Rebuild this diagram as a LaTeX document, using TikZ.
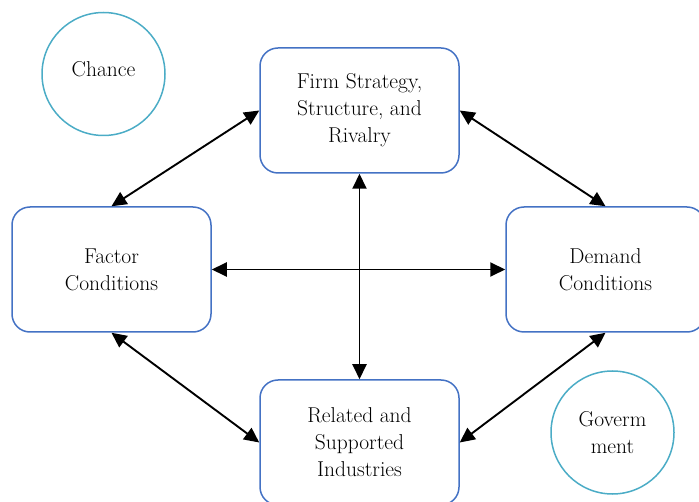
\documentclass[tikz,border=0pt]{standalone}
\usetikzlibrary{arrows.meta}
\definecolor{boxblue}{HTML}{4472C4}
\definecolor{circteal}{HTML}{4BACC6}
\begin{document}
\begin{tikzpicture}[x=1pt,y=-1pt,
  box/.style={draw=boxblue,line width=1.5pt,rounded corners=18pt,minimum width=199pt,minimum height=125pt,align=center,inner sep=0pt},
  circ/.style={draw=circteal,line width=1.5pt,circle,minimum size=123pt,inner sep=0pt,align=center},
  txt/.style={align=center,inner sep=0pt},
  link/.style={line width=1.9pt,{Triangle[length=15pt,width=14pt]}-{Triangle[length=15pt,width=14pt]}},
  every node/.style={font=\rmfamily\fontsize{21.5}{27}\selectfont}]
\useasboundingbox (0,0) rectangle (699,502);
\begin{scope}
\clip (0,0) rectangle (699,502);
\node[box] (firm) at (359.5,110.5) {Firm Strategy,\\Structure, and\\Rivalry};
\node[box] (factor) at (111.5,269.5) {Factor\\Conditions};
\node[box] (demand) at (605.5,269.5) {Demand\\Conditions};
\node[box] (related) at (359.5,442.5) {Related and\\Supported\\Industries};
\node[circ] (chance) at (103.5,74) {};
\node[txt] (chancetext) at (103.5,69) {Chance};
\node[circ] (gov) at (612.5,432.5) {Goverm\\ment};
\draw[link] (factor.north) -- (firm.west);
\draw[link] (firm.east) -- (demand.north);
\draw[link] (factor.south) -- (related.west);
\draw[link] (demand.south) -- (related.east);
\draw[link] (factor.east) -- (demand.west);
\draw[link] (firm.south) -- (related.north);
\end{scope}
\end{tikzpicture}
\end{document}
